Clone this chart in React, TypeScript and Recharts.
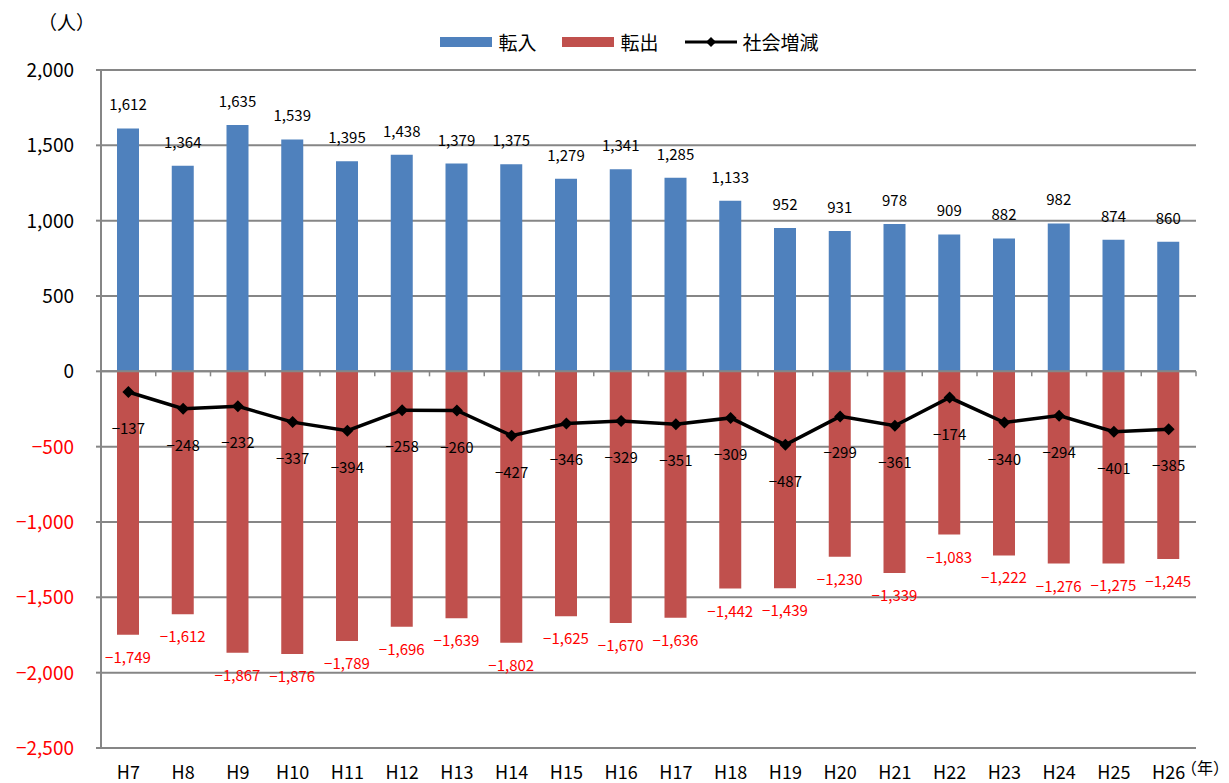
import React from "react";
import {
  ComposedChart,
  Bar,
  Line,
  XAxis,
  YAxis,
  CartesianGrid,
  ReferenceLine,
  LabelList,
} from "recharts";

const years = ["H7", "H8", "H9", "H10", "H11", "H12", "H13", "H14", "H15", "H16", "H17", "H18", "H19", "H20", "H21", "H22", "H23", "H24", "H25", "H26"];
const inflow = [1612, 1364, 1635, 1539, 1395, 1438, 1379, 1375, 1279, 1341, 1285, 1133, 952, 931, 978, 909, 882, 982, 874, 860];
const outflow = [-1749, -1612, -1867, -1876, -1789, -1696, -1639, -1802, -1625, -1670, -1636, -1442, -1439, -1230, -1339, -1083, -1222, -1276, -1275, -1245];
const netChange = [-137, -248, -232, -337, -394, -258, -260, -427, -346, -329, -351, -309, -487, -299, -361, -174, -340, -294, -401, -385];
const yTicks = [2000, 1500, 1000, 500, 0, -500, -1000, -1500, -2000, -2500];

const data = years.map((year, i) => ({
  year,
  inflow: inflow[i],
  outflow: outflow[i],
  net: netChange[i],
}));

const FONT = '"Noto Sans CJK JP", "Noto Sans", sans-serif';
const BLUE = "#4F81BD";
const RED = "#C0504D";
const GRID = "#868686";

const fmt = (v: number) => {
  const s = Math.abs(v).toLocaleString("en-US");
  return v < 0 ? "\u2212" + s : s;
};

const YTick = (props: any) => {
  const { x, y, payload } = props;
  const v = payload.value as number;
  return (
    <text x={x} y={y} dy={7} textAnchor="end" fontSize={19} fontFamily={FONT} fill={v < 0 ? "#FF0000" : "#000"}>
      {fmt(v)}
    </text>
  );
};

const ZeroLine = (props: any) => {
  const { x1, y1, x2 } = props;
  const n = years.length;
  const step = (x2 - x1) / n;
  return (
    <g>
      <line x1={x1} y1={y1} x2={x2} y2={y1} stroke={GRID} strokeWidth={2} />
      {years.map((_, i) => (
        <line key={i} x1={x1 + step * (i + 1)} y1={y1} x2={x1 + step * (i + 1)} y2={y1 + 5} stroke={GRID} strokeWidth={1.5} />
      ))}
    </g>
  );
};

const Diamond = (props: any) => {
  const { cx, cy } = props;
  if (cx == null || cy == null) return null;
  return <path d={`M${cx},${cy - 6}L${cx + 6},${cy}L${cx},${cy + 6}L${cx - 6},${cy}Z`} fill="#000" />;
};

const LegendBox = () => (
  <div style={{ position: "absolute", left: 0, top: 30, width: 1229, display: "flex", justifyContent: "center", alignItems: "center", paddingLeft: 30, boxSizing: "border-box", fontFamily: FONT, fontSize: 19, color: "#000", lineHeight: "24px" }}>
    <span style={{ display: "inline-block", width: 52, height: 10, background: BLUE, marginRight: 6 }} />
    <span style={{ marginRight: 26 }}>転入</span>
    <span style={{ display: "inline-block", width: 52, height: 10, background: RED, marginRight: 6 }} />
    <span style={{ marginRight: 26 }}>転出</span>
    <svg width={52} height={12} style={{ marginRight: 6 }}>
      <line x1={0} y1={6} x2={52} y2={6} stroke="#000" strokeWidth={3} />
      <path d="M26,1L31,6L26,11L21,6Z" fill="#000" />
    </svg>
    <span>社会増減</span>
  </div>
);

const InLabel = (props: any) => {
  const { x, y, width, height, value } = props;
  const top = Math.min(y, y + height);
  return (
    <text x={x + width / 2} y={top - 18} textAnchor="middle" fontSize={15} fontFamily={FONT} fill="#000">
      {fmt(value)}
    </text>
  );
};

const OutLabel = (props: any) => {
  const { x, y, width, height, value } = props;
  const bottom = Math.max(y, y + height);
  return (
    <text x={x + width / 2} y={bottom + 28} textAnchor="middle" fontSize={15} fontFamily={FONT} fill="#FF0000">
      {fmt(value)}
    </text>
  );
};

const NetLabel = (props: any) => {
  const { x, y, value } = props;
  return (
    <text x={x} y={y + 42} textAnchor="middle" fontSize={15} fontFamily={FONT} fill="#000">
      {fmt(value)}
    </text>
  );
};

export default function App() {
  return (
    <div style={{ position: "absolute", left: 0, top: 0, width: 1229, height: 783, background: "#fff" }}>
      <div style={{ position: "absolute", left: 38, top: 8, fontFamily: FONT, fontSize: 19 }}>（人）</div>
      <div style={{ position: "absolute", left: 1181, top: 755, fontFamily: FONT, fontSize: 16, whiteSpace: "nowrap" }}>（年）</div>
      <LegendBox />
      <ComposedChart
        width={1229}
        height={783}
        data={data}
        stackOffset="sign"
        margin={{ top: 70, right: 33, bottom: 0, left: 0 }}
      >
        <CartesianGrid vertical={false} stroke={GRID} strokeWidth={2} />
        <XAxis
          dataKey="year"
          axisLine={false}
          tickLine={false}
          tickMargin={12}
          height={35}
          interval={0}
          tick={{ fontSize: 18, fontFamily: FONT, fill: "#000" }}
        />
        <YAxis
          width={101}
          domain={[-2500, 2000]}
          ticks={yTicks}
          interval={0}
          axisLine={{ stroke: GRID, strokeWidth: 2 }}
          tickLine={{ stroke: GRID, strokeWidth: 2 }}
          tickSize={5}
          tickMargin={22}
          tick={<YTick />}
        />
        <Bar dataKey="inflow" name="転入" stackId="a" fill={BLUE} barSize={22} isAnimationActive={false}>
          <LabelList dataKey="inflow" content={<InLabel />} />
        </Bar>
        <Bar dataKey="outflow" name="転出" stackId="a" fill={RED} barSize={22} isAnimationActive={false}>
          <LabelList dataKey="outflow" content={<OutLabel />} />
        </Bar>
        <ReferenceLine y={0} shape={<ZeroLine />} />
        <Line
          dataKey="net"
          name="社会増減"
          stroke="#000"
          strokeWidth={3.5}
          dot={<Diamond />}
          activeDot={false}
          isAnimationActive={false}
        >
          <LabelList dataKey="net" content={<NetLabel />} />
        </Line>
      </ComposedChart>
    </div>
  );
}
